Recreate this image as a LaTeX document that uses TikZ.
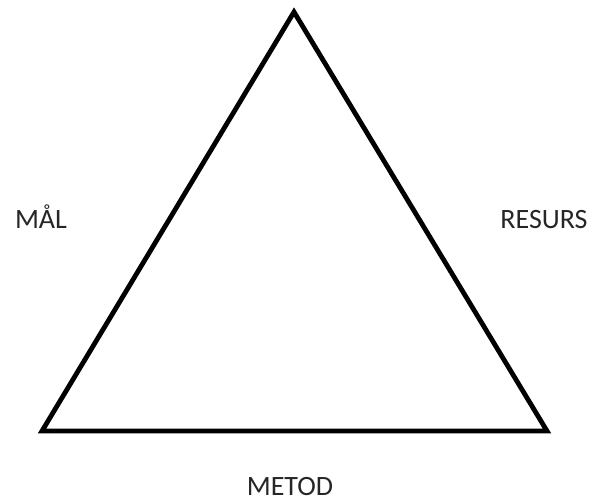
\documentclass[tikz,border=0pt]{standalone}
\usepackage{fontspec}
\setmainfont{Carlito}
\usetikzlibrary{positioning}
\tikzset{x=1pt, y=1pt, % one unit is one pixel of the reference
every label text/.style={ % Sets the properties for the side labels
anchor=base, inner sep=0pt,
text=black!85,
font=\fontsize{28}{30}\selectfont},
side/.style={ % Sets the properties for the triangle sides
draw, line width=4.8pt, line join=miter}}

\begin{document}
\begin{tikzpicture}
    \useasboundingbox (0,0) rectangle (596,501);
    \coordinate (top) at (294,489);
    \coordinate (left) at (42,70);
    \coordinate (right) at (547,70);
    \draw[side] (top) -- (right) -- (left) -- cycle;
    \node[every label text] (mal) at (41,272) {MÅL};
    \node[every label text] (resurs) at (544,272) {RESURS};
    \node[every label text] (metod) at (290,6) {METOD};
\end{tikzpicture}
\end{document}
